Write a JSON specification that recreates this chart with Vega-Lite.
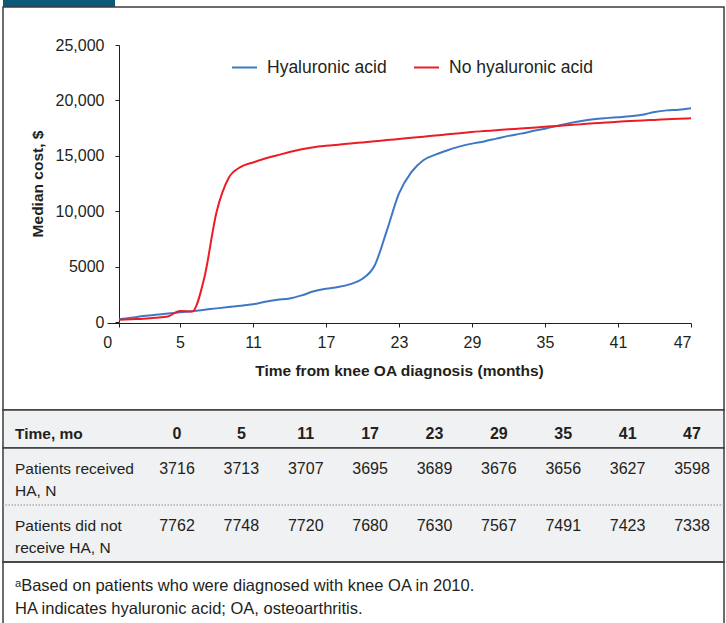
{
  "$schema": "https://vega.github.io/schema/vega-lite/v6.json",
  "padding": {"left": 1, "top": 0, "right": 3, "bottom": 0},
  "bounds": "flush",
  "spacing": 0,
  "config": {
    "font": "Liberation Sans",
    "view": {"stroke": null},
    "text": {"color": "#231f20"}
  },
  "resolve": {"scale": {"x": "independent", "y": "independent", "color": "independent"}},
  "datasets": {
    "costs": [
      {"month":0,"group":"Hyaluronic acid","cost":250},{"month":1,"group":"Hyaluronic acid","cost":380},{"month":2,"group":"Hyaluronic acid","cost":540},{"month":3,"group":"Hyaluronic acid","cost":660},{"month":4,"group":"Hyaluronic acid","cost":760},{"month":5,"group":"Hyaluronic acid","cost":880},{"month":6,"group":"Hyaluronic acid","cost":980},{"month":7,"group":"Hyaluronic acid","cost":1100},{"month":8,"group":"Hyaluronic acid","cost":1230},{"month":9,"group":"Hyaluronic acid","cost":1350},{"month":10,"group":"Hyaluronic acid","cost":1460},{"month":11,"group":"Hyaluronic acid","cost":1600},{"month":12,"group":"Hyaluronic acid","cost":1830},{"month":13,"group":"Hyaluronic acid","cost":2000},{"month":14,"group":"Hyaluronic acid","cost":2120},{"month":15,"group":"Hyaluronic acid","cost":2400},{"month":16,"group":"Hyaluronic acid","cost":2770},{"month":17,"group":"Hyaluronic acid","cost":3000},{"month":18,"group":"Hyaluronic acid","cost":3150},{"month":19,"group":"Hyaluronic acid","cost":3420},{"month":20,"group":"Hyaluronic acid","cost":3900},{"month":21,"group":"Hyaluronic acid","cost":5100},{"month":22,"group":"Hyaluronic acid","cost":8250},{"month":23,"group":"Hyaluronic acid","cost":11600},{"month":24,"group":"Hyaluronic acid","cost":13500},{"month":25,"group":"Hyaluronic acid","cost":14600},{"month":26,"group":"Hyaluronic acid","cost":15100},{"month":27,"group":"Hyaluronic acid","cost":15500},{"month":28,"group":"Hyaluronic acid","cost":15850},{"month":29,"group":"Hyaluronic acid","cost":16100},{"month":30,"group":"Hyaluronic acid","cost":16300},{"month":31,"group":"Hyaluronic acid","cost":16550},{"month":32,"group":"Hyaluronic acid","cost":16800},{"month":33,"group":"Hyaluronic acid","cost":17000},{"month":34,"group":"Hyaluronic acid","cost":17230},{"month":35,"group":"Hyaluronic acid","cost":17450},{"month":36,"group":"Hyaluronic acid","cost":17700},{"month":37,"group":"Hyaluronic acid","cost":17950},{"month":38,"group":"Hyaluronic acid","cost":18150},{"month":39,"group":"Hyaluronic acid","cost":18300},{"month":40,"group":"Hyaluronic acid","cost":18400},{"month":41,"group":"Hyaluronic acid","cost":18480},{"month":42,"group":"Hyaluronic acid","cost":18560},{"month":43,"group":"Hyaluronic acid","cost":18700},{"month":44,"group":"Hyaluronic acid","cost":18950},{"month":45,"group":"Hyaluronic acid","cost":19100},{"month":46,"group":"Hyaluronic acid","cost":19160},{"month":47,"group":"Hyaluronic acid","cost":19290},
      {"month":0,"group":"No hyaluronic acid","cost":200},{"month":1,"group":"No hyaluronic acid","cost":250},{"month":2,"group":"No hyaluronic acid","cost":300},{"month":3,"group":"No hyaluronic acid","cost":380},{"month":4,"group":"No hyaluronic acid","cost":500},{"month":5,"group":"No hyaluronic acid","cost":1000},{"month":6,"group":"No hyaluronic acid","cost":950},{"month":7,"group":"No hyaluronic acid","cost":4000},{"month":8,"group":"No hyaluronic acid","cost":9900},{"month":9,"group":"No hyaluronic acid","cost":13000},{"month":10,"group":"No hyaluronic acid","cost":14000},{"month":11,"group":"No hyaluronic acid","cost":14400},{"month":12,"group":"No hyaluronic acid","cost":14750},{"month":13,"group":"No hyaluronic acid","cost":15050},{"month":14,"group":"No hyaluronic acid","cost":15350},{"month":15,"group":"No hyaluronic acid","cost":15600},{"month":16,"group":"No hyaluronic acid","cost":15780},{"month":17,"group":"No hyaluronic acid","cost":15900},{"month":18,"group":"No hyaluronic acid","cost":16000},{"month":19,"group":"No hyaluronic acid","cost":16110},{"month":20,"group":"No hyaluronic acid","cost":16210},{"month":21,"group":"No hyaluronic acid","cost":16310},{"month":22,"group":"No hyaluronic acid","cost":16420},{"month":23,"group":"No hyaluronic acid","cost":16520},{"month":24,"group":"No hyaluronic acid","cost":16620},{"month":25,"group":"No hyaluronic acid","cost":16730},{"month":26,"group":"No hyaluronic acid","cost":16830},{"month":27,"group":"No hyaluronic acid","cost":16940},{"month":28,"group":"No hyaluronic acid","cost":17040},{"month":29,"group":"No hyaluronic acid","cost":17150},{"month":30,"group":"No hyaluronic acid","cost":17230},{"month":31,"group":"No hyaluronic acid","cost":17310},{"month":32,"group":"No hyaluronic acid","cost":17390},{"month":33,"group":"No hyaluronic acid","cost":17460},{"month":34,"group":"No hyaluronic acid","cost":17540},{"month":35,"group":"No hyaluronic acid","cost":17620},{"month":36,"group":"No hyaluronic acid","cost":17700},{"month":37,"group":"No hyaluronic acid","cost":17770},{"month":38,"group":"No hyaluronic acid","cost":17850},{"month":39,"group":"No hyaluronic acid","cost":17930},{"month":40,"group":"No hyaluronic acid","cost":18000},{"month":41,"group":"No hyaluronic acid","cost":18080},{"month":42,"group":"No hyaluronic acid","cost":18130},{"month":43,"group":"No hyaluronic acid","cost":18190},{"month":44,"group":"No hyaluronic acid","cost":18240},{"month":45,"group":"No hyaluronic acid","cost":18290},{"month":46,"group":"No hyaluronic acid","cost":18340},{"month":47,"group":"No hyaluronic acid","cost":18380}
    ],
    "table": [
      {"row":"header","col":"label","text":"Time, mo"},
      {"row":"header","col":"0","text":"0"},{"row":"header","col":"5","text":"5"},{"row":"header","col":"11","text":"11"},{"row":"header","col":"17","text":"17"},{"row":"header","col":"23","text":"23"},{"row":"header","col":"29","text":"29"},{"row":"header","col":"35","text":"35"},{"row":"header","col":"41","text":"41"},{"row":"header","col":"47","text":"47"},
      {"row":"ha","col":"label","text":"Patients received\nHA, N"},
      {"row":"ha","col":"0","text":"3716"},{"row":"ha","col":"5","text":"3713"},{"row":"ha","col":"11","text":"3707"},{"row":"ha","col":"17","text":"3695"},{"row":"ha","col":"23","text":"3689"},{"row":"ha","col":"29","text":"3676"},{"row":"ha","col":"35","text":"3656"},{"row":"ha","col":"41","text":"3627"},{"row":"ha","col":"47","text":"3598"},
      {"row":"noha","col":"label","text":"Patients did not\nreceive HA, N"},
      {"row":"noha","col":"0","text":"7762"},{"row":"noha","col":"5","text":"7748"},{"row":"noha","col":"11","text":"7720"},{"row":"noha","col":"17","text":"7680"},{"row":"noha","col":"23","text":"7630"},{"row":"noha","col":"29","text":"7567"},{"row":"noha","col":"35","text":"7491"},{"row":"noha","col":"41","text":"7423"},{"row":"noha","col":"47","text":"7338"}
    ],
    "notes": [
      {"line":"1","text":"ᵃBased on patients who were diagnosed with knee OA in 2010."},
      {"line":"2","text":"HA indicates hyaluronic acid; OA, osteoarthritis."}
    ]
  },
  "vconcat": [
    {
      "width": 112, "height": 7,
      "view": {"stroke": null},
      "data": {"values": [{"part": "figure label band"}]},
      "mark": {"type": "rect", "color": "#0b5a78"},
      "encoding": {}
    },
    {
      "width": 721, "height": 403,
      "view": {"stroke": "#3d3d3d", "strokeWidth": 1.5},
      "data": {"name": "costs"},
      "mark": {"type": "line", "strokeWidth": 2, "interpolate": "monotone"},
      "encoding": {
        "x": {
          "field": "month", "type": "quantitative",
          "scale": {"domain": [-1, 47], "range": [104, 688], "nice": false, "zero": false},
          "axis": {
            "orient": "bottom", "offset": -87, "grid": false,
            "values": [0, 5, 11, 17, 23, 29, 35, 41, 47],
            "domainColor": "#231f20", "domainWidth": 1, "tickColor": "#231f20", "tickSize": 4,
            "labelFontSize": 16, "labelColor": "#231f20", "labelPadding": 7,
            "labelOffset": {"condition": {"test": "datum.value === 0", "value": -12}, "value": 0},
            "title": "Time from knee OA diagnosis (months)",
            "titleFontSize": 15.5, "titleFontWeight": "bold", "titleColor": "#231f20",
            "titleBaseline": "middle", "titleY": 47
          }
        },
        "y": {
          "field": "cost", "type": "quantitative",
          "scale": {"domain": [0, 25000], "range": [315, 38], "nice": false},
          "axis": {
            "orient": "left", "offset": -116, "grid": false,
            "values": [0, 5000, 10000, 15000, 20000, 25000],
            "labelExpr": "datum.value >= 10000 ? format(datum.value, ',') : format(datum.value, 'd')",
            "domainColor": "#231f20", "domainWidth": 1, "tickColor": "#231f20", "tickSize": 4,
            "labelFontSize": 16, "labelColor": "#231f20", "labelPadding": 11,
            "title": "Median cost, $",
            "titleFontSize": 15.5, "titleFontWeight": "bold", "titleColor": "#231f20",
            "titleAngle": -90, "titleBaseline": "middle", "titleX": -82, "titleY": 176.5
          }
        },
        "color": {
          "field": "group", "type": "nominal",
          "scale": {"domain": ["Hyaluronic acid", "No hyaluronic acid"], "range": ["#3e78c4", "#ec1c24"]},
          "legend": {
            "title": null, "orient": "none", "legendX": 228, "legendY": 47, "direction": "horizontal",
            "symbolType": "stroke", "symbolSize": 625, "symbolStrokeWidth": 2,
            "labelFontSize": 17.5, "labelColor": "#231f20", "labelOffset": 9, "labelLimit": 0,
            "columnPadding": 23, "padding": 0
          }
        }
      }
    },
    {
      "width": 721, "height": 38,
      "view": {"stroke": "#3d3d3d", "strokeWidth": 1.5, "fill": "#f0f1f3"},
      "data": {"name": "table"},
      "transform": [{"filter": "datum.row === 'header'"}],
      "layer": [
        {
          "transform": [{"filter": "datum.col === 'label'"}],
          "mark": {"type": "text", "align": "left", "baseline": "middle", "dx": -97.6, "dy": 5, "fontSize": 15.5, "fontWeight": "bold"},
          "encoding": {
            "x": {"field": "col", "type": "nominal", "scale": {"type": "point", "domain": ["label","0","5","11","17","23","29","35","41","47"], "range": [109.6, 689], "padding": 0}, "axis": null},
            "text": {"field": "text"}
          }
        },
        {
          "transform": [{"filter": "datum.col !== 'label'"}],
          "mark": {"type": "text", "align": "center", "baseline": "middle", "dy": 5, "fontSize": 16, "fontWeight": "bold"},
          "encoding": {
            "x": {"field": "col", "type": "nominal", "scale": {"type": "point", "domain": ["label","0","5","11","17","23","29","35","41","47"], "range": [109.6, 689], "padding": 0}, "axis": null},
            "text": {"field": "text"}
          }
        }
      ]
    },
    {
      "width": 721, "height": 114,
      "view": {"stroke": "#3d3d3d", "strokeWidth": 1.5, "fill": "#f0f1f3"},
      "data": {"name": "table"},
      "transform": [{"filter": "datum.row !== 'header'"}],
      "layer": [
        {
          "transform": [{"filter": "datum.row === 'noha' && datum.col === 'label'"}],
          "mark": {"type": "rule", "color": "#8c8c8c", "strokeWidth": 1, "strokeDash": [1.5, 1.5]},
          "encoding": {
            "y": {"field": "row", "type": "nominal", "bandPosition": 0, "scale": {"type": "band", "domain": ["ha", "noha"], "paddingInner": 0, "paddingOuter": 0}, "axis": null}
          }
        },
        {
          "transform": [{"filter": "datum.col === 'label'"}],
          "mark": {"type": "text", "align": "left", "baseline": "alphabetic", "dx": -97.6, "fontSize": 15.5, "lineBreak": "\n", "lineHeight": 22},
          "encoding": {
            "x": {"field": "col", "type": "nominal", "scale": {"type": "point", "domain": ["label","0","5","11","17","23","29","35","41","47"], "range": [109.6, 689], "padding": 0}, "axis": null},
            "y": {"field": "row", "type": "nominal", "bandPosition": 0.45, "scale": {"type": "band", "domain": ["ha", "noha"], "paddingInner": 0, "paddingOuter": 0}, "axis": null},
            "text": {"field": "text"}
          }
        },
        {
          "transform": [{"filter": "datum.col !== 'label'"}],
          "mark": {"type": "text", "align": "center", "baseline": "alphabetic", "fontSize": 16},
          "encoding": {
            "x": {"field": "col", "type": "nominal", "scale": {"type": "point", "domain": ["label","0","5","11","17","23","29","35","41","47"], "range": [109.6, 689], "padding": 0}, "axis": null},
            "y": {"field": "row", "type": "nominal", "bandPosition": 0.45, "scale": {"type": "band", "domain": ["ha", "noha"], "paddingInner": 0, "paddingOuter": 0}, "axis": null},
            "text": {"field": "text"}
          }
        }
      ]
    },
    {
      "width": 721, "height": 62,
      "view": {"stroke": "#3d3d3d", "strokeWidth": 1.5},
      "data": {"name": "notes"},
      "mark": {"type": "text", "align": "left", "baseline": "middle", "dx": -97.6, "fontSize": 16.5},
      "encoding": {
        "x": {"datum": "label", "type": "nominal", "scale": {"type": "point", "domain": ["label","0","5","11","17","23","29","35","41","47"], "range": [109.6, 689], "padding": 0}, "axis": null},
        "y": {"field": "line", "type": "nominal", "scale": {"type": "point", "domain": ["1", "2"], "range": [24, 47], "padding": 0}, "axis": null},
        "text": {"field": "text"}
      }
    }
  ]
}
